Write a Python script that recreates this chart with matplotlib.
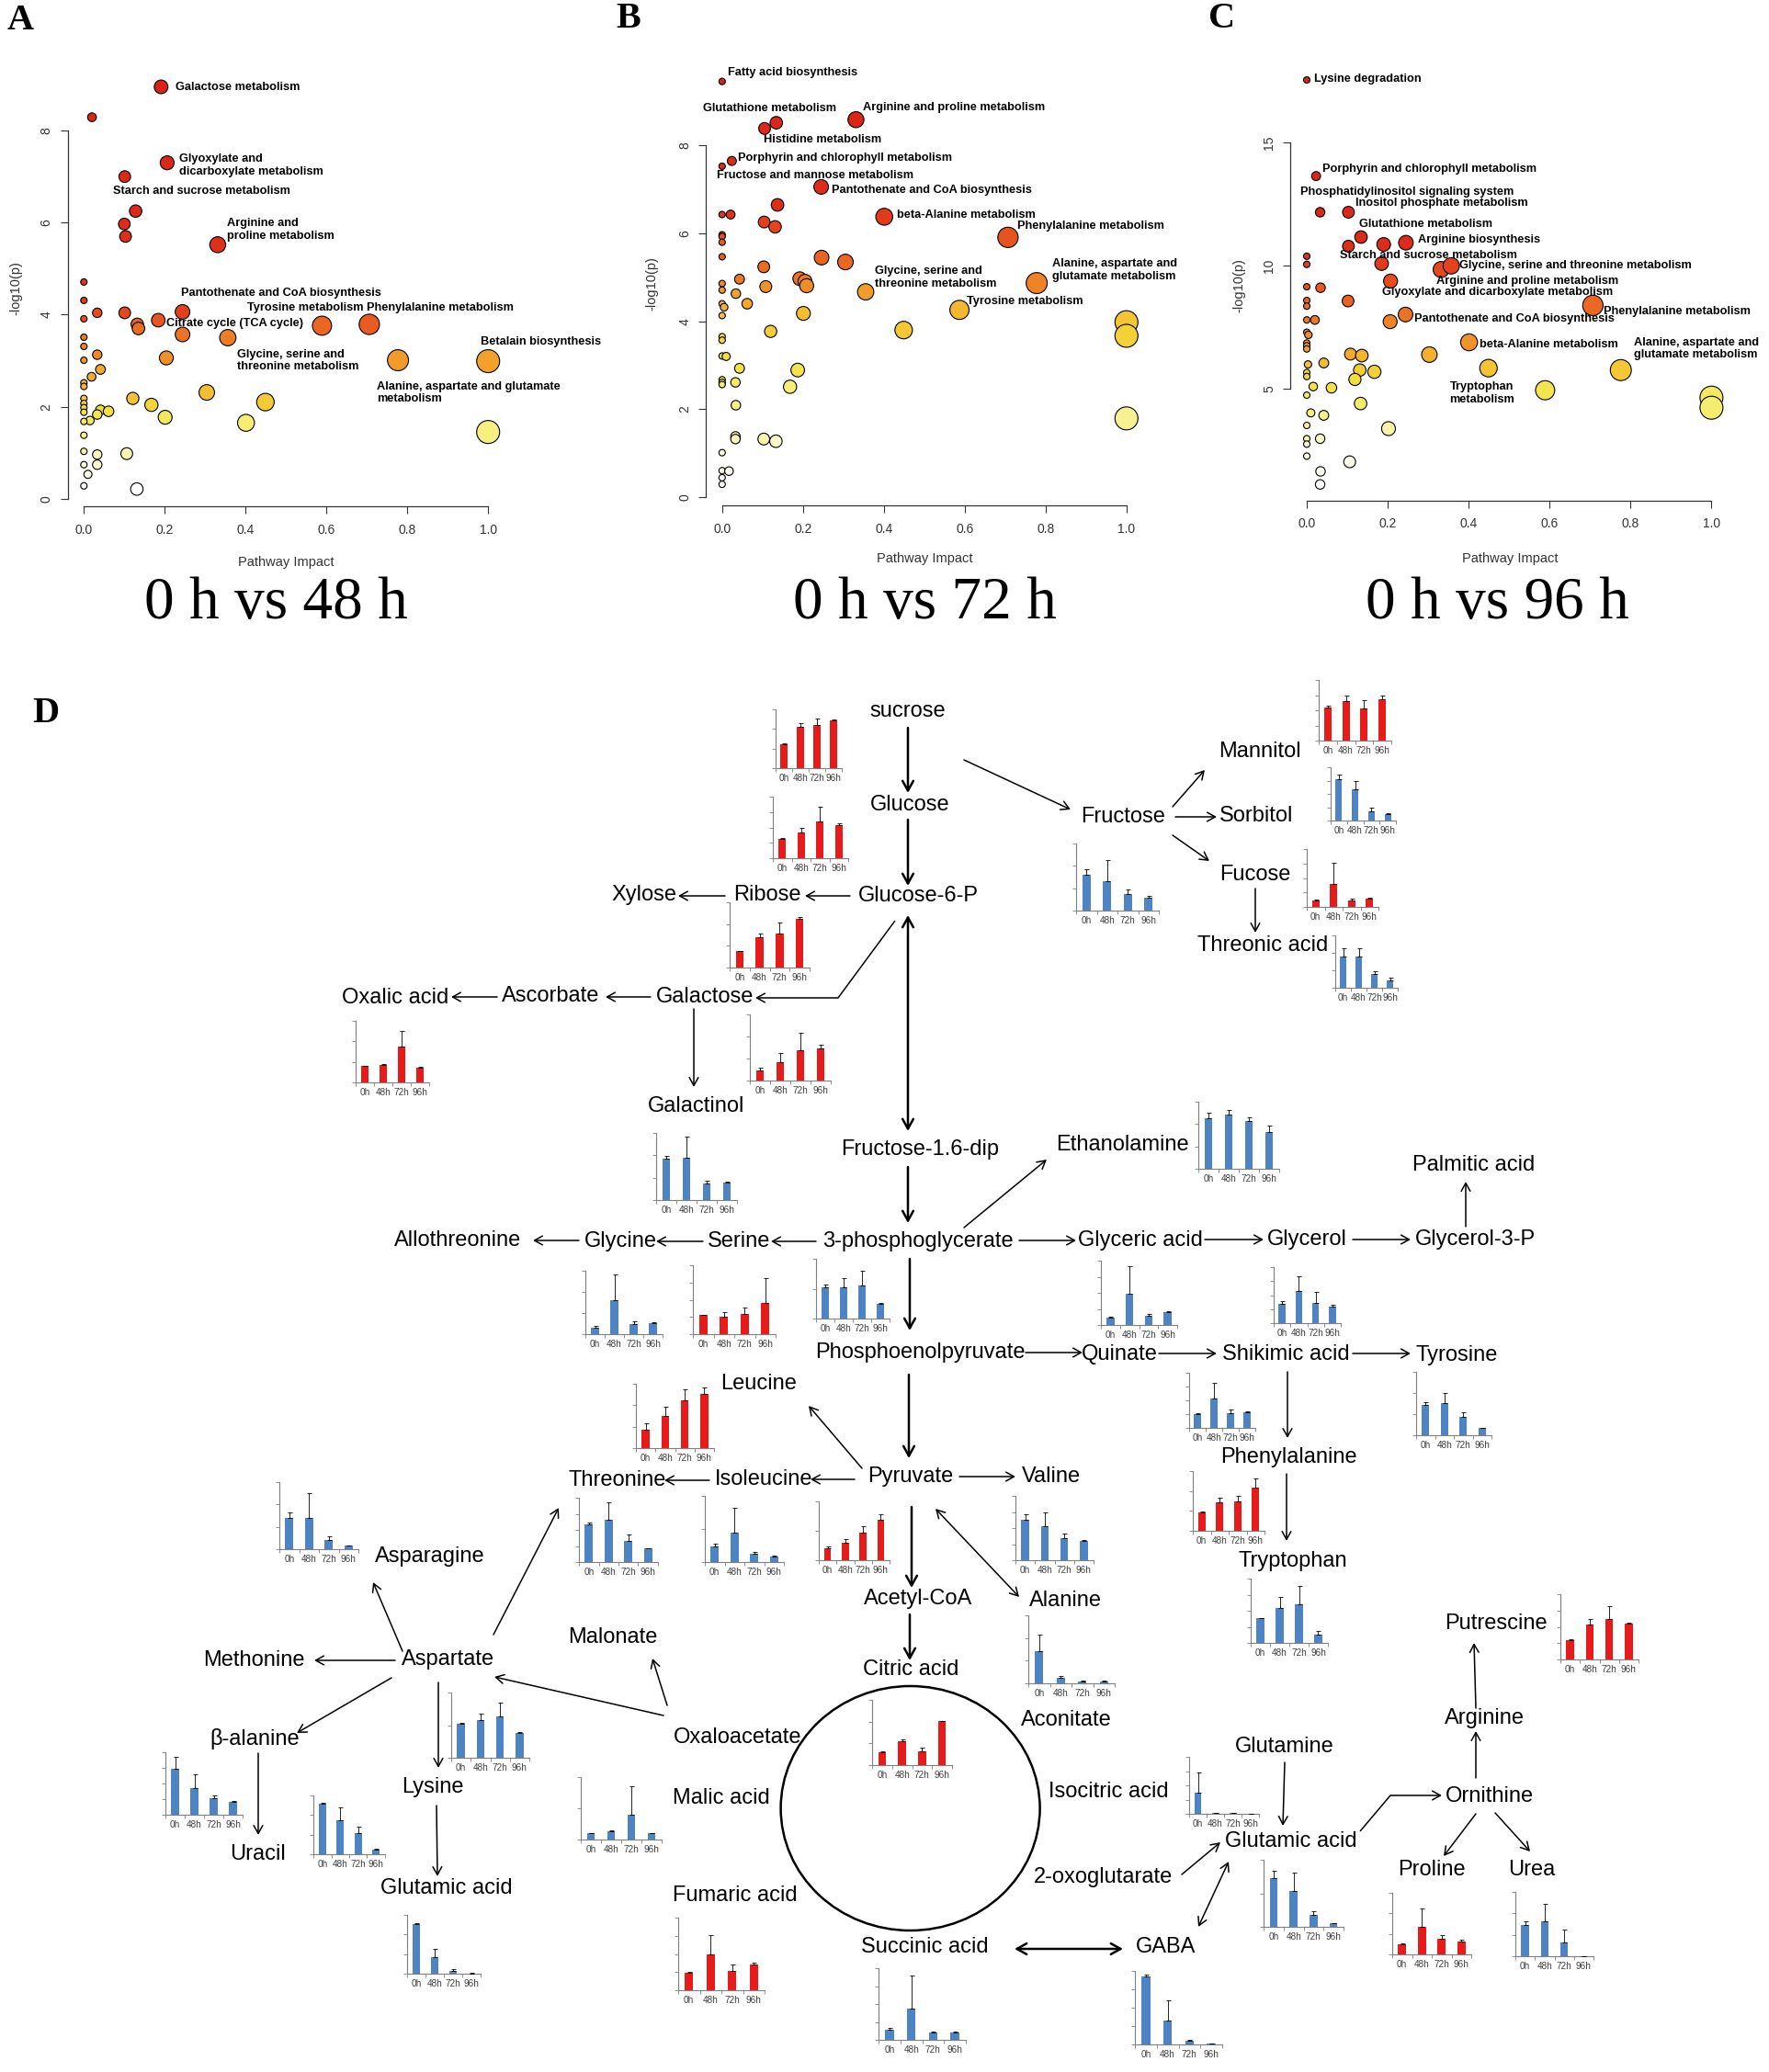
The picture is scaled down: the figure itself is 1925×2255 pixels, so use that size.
"""Pathway impact bubble plots (A-C) and the metabolite map with bar insets (D)."""

import numpy as np
import matplotlib

matplotlib.use("Agg")
import matplotlib.pyplot as plt
from matplotlib.colors import LinearSegmentedColormap
from matplotlib.patches import Ellipse

W, H = 1925, 2255

# ------------------------------------------------------------------ A-C data
a_impact = [0.191, 0.020, 0.206, 0.101, 0.128, 0.100, 0.103, 0.331, 0.0, 0.0,
            0.033, 0.0, 0.101, 0.244, 0.184, 0.132, 0.135, 0.244, 0.356, 0.589,
            0.706, 0.0, 0.0, 0.033, 0.0, 0.204, 0.777, 1.0, 0.041, 0.019,
            0.0, 0.0, 0.304, 0.121, 0.0, 0.0, 0.449, 0.167, 0.0, 0.041,
            0.061, 0.0, 0.033, 0.201, 0.015, 0.0, 0.401, 1.0, 0.0, 0.0,
            0.033, 0.106, 0.0, 0.033, 0.010, 0.0, 0.131]
a_logp = [8.95, 8.29, 7.30, 7.00, 6.25, 5.97, 5.70, 5.52, 4.71, 4.31,
          4.04, 3.91, 4.04, 4.06, 3.88, 3.79, 3.70, 3.57, 3.50, 3.76,
          3.79, 3.51, 3.31, 3.13, 3.01, 3.06, 3.01, 2.99, 2.81, 2.65,
          2.52, 2.44, 2.31, 2.18, 2.18, 2.07, 2.10, 2.04, 1.98, 1.93,
          1.90, 1.88, 1.83, 1.77, 1.70, 1.68, 1.65, 1.45, 1.38, 1.03,
          0.96, 0.98, 0.74, 0.74, 0.53, 0.28, 0.21]
a_pathways = ["Galactose metabolism", "Glyoxylate and\ndicarboxylate metabolism",
              "Starch and sucrose metabolism", "Arginine and\nproline metabolism",
              "Pantothenate and CoA biosynthesis", "Tyrosine metabolism",
              "Phenylalanine metabolism", "Citrate cycle (TCA cycle)",
              "Betalain biosynthesis", "Glycine, serine and\nthreonine metabolism",
              "Alanine, aspartate and glutamate\nmetabolism"]

b_impact = [0.0, 0.134, 0.105, 0.331, 0.024, 0.0, 0.245, 0.137, 0.0, 0.021,
            0.104, 0.131, 0.401, 0.707, 0.0, 0.0, 0.0, 0.0, 0.246, 0.305,
            0.103, 0.043, 0.192, 0.205, 0.209, 0.778, 0.0, 0.108, 0.0, 0.355,
            0.034, 0.0, 0.062, 0.005, 0.587, 0.201, 0.0, 1.0, 0.449, 0.120,
            1.0, 0.0, 0.0, 0.0, 0.010, 0.043, 0.187, 0.0, 0.0, 0.0,
            0.033, 0.168, 0.034, 1.0, 0.033, 0.033, 0.103, 0.133, 0.0, 0.0,
            0.017, 0.0, 0.0]
b_logp = [9.46, 8.52, 8.39, 8.59, 7.65, 7.53, 7.06, 6.65, 6.43, 6.43,
          6.26, 6.15, 6.38, 5.91, 5.97, 5.93, 5.80, 5.47, 5.45, 5.35,
          5.24, 4.96, 4.97, 4.91, 4.81, 4.87, 4.86, 4.79, 4.71, 4.67,
          4.63, 4.40, 4.40, 4.32, 4.26, 4.18, 4.13, 3.98, 3.80, 3.77,
          3.67, 3.65, 3.57, 3.21, 3.20, 2.93, 2.89, 2.67, 2.61, 2.56,
          2.61, 2.51, 2.09, 1.79, 1.38, 1.32, 1.32, 1.27, 1.01, 0.60,
          0.59, 0.44, 0.29]
b_pathways = ["Fatty acid biosynthesis", "Glutathione metabolism",
              "Arginine and proline metabolism", "Histidine metabolism",
              "Porphyrin and chlorophyll metabolism", "Fructose and mannose metabolism",
              "Pantothenate and CoA biosynthesis", "beta-Alanine metabolism",
              "Phenylalanine metabolism", "Alanine, aspartate and\nglutamate metabolism",
              "Glycine, serine and\nthreonine metabolism", "Tyrosine metabolism"]

c_impact = [0.0, 0.023, 0.033, 0.103, 0.134, 0.103, 0.190, 0.245, 0.0, 0.0,
            0.185, 0.332, 0.357, 0.207, 0.0, 0.034, 0.102, 0.0, 0.0, 0.707,
            0.0, 0.020, 0.244, 0.206, 0.0, 0.004, 0.0, 0.0, 0.0, 0.401,
            0.108, 0.136, 0.303, 0.042, 0.003, 0.449, 0.776, 0.131, 0.167, 0.0,
            0.0, 0.119, 0.016, 0.061, 0.589, 1.0, 0.0, 0.133, 1.0, 0.010,
            0.042, 0.0, 0.202, 0.033, 0.0, 0.0, 0.0, 0.106, 0.034, 0.033]
c_logp = [17.55, 13.64, 12.17, 12.17, 11.16, 10.79, 10.86, 10.93, 10.38, 10.05,
          10.08, 9.84, 9.99, 9.37, 9.14, 9.10, 8.56, 8.58, 8.35, 8.38,
          7.79, 7.79, 8.01, 7.72, 7.29, 7.18, 6.85, 6.74, 6.61, 6.88,
          6.40, 6.34, 6.38, 6.04, 5.98, 5.83, 5.75, 5.75, 5.68, 5.65,
          5.49, 5.37, 5.08, 5.03, 4.93, 4.63, 4.73, 4.39, 4.22, 4.01,
          3.91, 3.50, 3.37, 2.96, 2.96, 2.74, 2.25, 2.02, 1.63, 1.10]
c_pathways = ["Lysine degradation", "Porphyrin and chlorophyll metabolism",
              "Phosphatidylinositol signaling system", "Inositol phosphate metabolism",
              "Glutathione metabolism", "Arginine biosynthesis",
              "Starch and sucrose metabolism", "Glycine, serine and threonine metabolism",
              "Arginine and proline metabolism", "Glyoxylate and dicarboxylate metabolism",
              "Phenylalanine metabolism", "Pantothenate and CoA biosynthesis",
              "beta-Alanine metabolism", "Alanine, aspartate and\nglutamate metabolism",
              "Tryptophan\nmetabolism"]

comparisons = ["0 h vs 48 h", "0 h vs 72 h", "0 h vs 96 h"]

# ------------------------------------------------------------------ D data
time_points = ["0h", "48h", "72h", "96h"]
bar_metabolites = ["sucrose", "Glucose", "Ribose", "Galactose", "Galactinol",
                   "Fructose", "Ethanolamine", "Mannitol", "Sorbitol", "Fucose",
                   "Threonic acid", "Oxalic acid", "Glycine", "Serine",
                   "3-phosphoglycerate", "Glyceric acid", "Glycerol", "Leucine",
                   "Shikimic acid", "Tyrosine", "Threonine", "Isoleucine", "Pyruvate",
                   "Valine", "Phenylalanine", "Asparagine", "Tryptophan", "Alanine",
                   "Putrescine", "Aspartate", "beta-alanine", "Lysine", "Malic acid",
                   "Citric acid", "Isocitric acid", "Glutamic acid (GABA side)",
                   "Proline", "Urea", "Glutamic acid (lysine side)", "Fumaric acid",
                   "Succinic acid", "GABA"]
bar_means = [[0.41, 0.71, 0.74, 0.82], [0.31, 0.42, 0.60, 0.53], [0.25, 0.46, 0.52, 0.75],
             [0.15, 0.28, 0.46, 0.49], [0.62, 0.63, 0.24, 0.26], [0.54, 0.44, 0.24, 0.19],
             [0.75, 0.81, 0.71, 0.55], [0.55, 0.65, 0.53, 0.68], [0.77, 0.59, 0.18, 0.12],
             [0.11, 0.39, 0.11, 0.14], [0.59, 0.59, 0.27, 0.14], [0.265, 0.29, 0.585, 0.24],
             [0.10, 0.53, 0.16, 0.17], [0.28, 0.25, 0.30, 0.46], [0.53, 0.53, 0.56, 0.25],
             [0.12, 0.49, 0.14, 0.20], [0.34, 0.58, 0.36, 0.30], [0.29, 0.50, 0.74, 0.84],
             [0.25, 0.54, 0.27, 0.29], [0.48, 0.51, 0.29, 0.11], [0.58, 0.66, 0.33, 0.21],
             [0.24, 0.44, 0.12, 0.08], [0.21, 0.30, 0.47, 0.69], [0.63, 0.53, 0.34, 0.30],
             [0.31, 0.47, 0.49, 0.73], [0.46, 0.47, 0.14, 0.05], [0.38, 0.55, 0.60, 0.13],
             [0.47, 0.08, 0.03, 0.03], [0.30, 0.535, 0.625, 0.555], [0.52, 0.58, 0.64, 0.38],
             [0.74, 0.43, 0.27, 0.20], [0.86, 0.58, 0.36, 0.08], [0.10, 0.13, 0.40, 0.10],
             [0.20, 0.36, 0.21, 0.67], [0.37, 0.017, 0.01, 0.005], [0.72, 0.53, 0.18, 0.05],
             [0.16, 0.45, 0.26, 0.21], [0.48, 0.54, 0.22, 0.0], [0.84, 0.28, 0.05, 0.006],
             [0.24, 0.49, 0.27, 0.35], [0.14, 0.43, 0.10, 0.10], [0.92, 0.33, 0.045, 0.013]]
bar_err_tops = [[0.42, 0.76, 0.84, 0.83], [0.33, 0.49, 0.83, 0.56], [0.26, 0.52, 0.69, 0.78],
                [0.19, 0.41, 0.72, 0.54], [0.66, 0.95, 0.29, 0.28], [0.61, 0.76, 0.31, 0.22],
                [0.84, 0.88, 0.77, 0.64], [0.57, 0.75, 0.66, 0.75], [0.87, 0.75, 0.25, 0.14],
                [0.12, 0.76, 0.15, 0.16], [0.76, 0.76, 0.32, 0.19], [0.275, 0.305, 0.84, 0.25],
                [0.125, 0.94, 0.21, 0.19], [0.28, 0.32, 0.39, 0.82], [0.57, 0.67, 0.80, 0.26],
                [0.13, 0.92, 0.17, 0.21], [0.39, 0.84, 0.55, 0.33], [0.39, 0.64, 0.91, 0.94],
                [0.26, 0.81, 0.34, 0.30], [0.52, 0.67, 0.36, 0.12], [0.62, 0.93, 0.43, 0.21],
                [0.28, 0.82, 0.15, 0.10], [0.24, 0.36, 0.58, 0.78], [0.71, 0.75, 0.42, 0.32],
                [0.33, 0.56, 0.59, 0.88], [0.55, 0.83, 0.19, 0.06], [0.385, 0.71, 0.89, 0.19],
                [0.72, 0.11, 0.04, 0.04], [0.31, 0.62, 0.81, 0.565], [0.54, 0.67, 0.85, 0.39],
                [0.93, 0.64, 0.31, 0.22], [0.88, 0.79, 0.47, 0.09], [0.105, 0.15, 0.85, 0.10],
                [0.21, 0.40, 0.27, 0.68], [0.72, 0.02, 0.012, 0.006], [0.84, 0.81, 0.23, 0.06],
                [0.18, 0.74, 0.31, 0.24], [0.54, 0.82, 0.42, 0.0], [0.86, 0.42, 0.08, 0.008],
                [0.25, 0.76, 0.35, 0.38], [0.17, 0.90, 0.12, 0.11], [0.95, 0.60, 0.06, 0.015]]
bar_increased = [True, True, True, True, False, False, False, True, False, True,
                 False, True, False, True, False, False, False, True, False, False,
                 False, False, True, False, True, False, False, False, True, False,
                 False, False, False, True, False, False, True, False, False, True,
                 False, False]

# ------------------------------------------------------------------ layout (pixels)
panel_boxes = [(73.7, 77.0, 548.8, 551.0), (768.2, 67.6, 1243.4, 550.0),
               (1404.4, 69.6, 1880.0, 544.6)]
panel_ylims = [(-0.164, 9.3), (-0.19, 9.9), (0.45, 18.2)]
panel_yticks = [[0, 2, 4, 6, 8], [0, 2, 4, 6, 8], [5, 10, 15]]
a_label_xy = [(0.226, 8.95), (0.235, 7.25), (0.071, 6.68), (0.355, 5.85), (0.241, 4.46),
              (0.405, 4.14), (0.700, 4.14), (0.204, 3.80), (0.981, 3.40), (0.380, 3.00),
              (0.725, 2.30)]
b_label_xy = [(0.015, 9.67), (-0.048, 8.84), (0.349, 8.86), (0.103, 8.13), (0.040, 7.71),
              (-0.014, 7.32), (0.270, 6.99), (0.432, 6.42), (0.730, 6.16), (0.816, 5.16),
              (0.377, 5.00), (0.605, 4.45)]
c_label_xy = [(0.019, 17.60), (0.038, 13.94), (-0.017, 12.98), (0.120, 12.56), (0.129, 11.69),
              (0.275, 11.05), (0.082, 10.42), (0.377, 9.99), (0.320, 9.35), (0.187, 8.92),
              (0.734, 8.12), (0.265, 7.85), (0.427, 6.80), (0.809, 6.62), (0.353, 4.81)]
xlabel_xy = [(311, 612), (1006, 608), (1643, 608)]
ylabel_xy = [(17, 314), (709, 309), (1348, 311)]
title_xy = [(300, 657), (1006, 657), (1629, 657)]

bar_boxes = [(844, 772, 916, 836), (841, 867, 923, 934), (794, 982, 881, 1053),
             (816, 1104, 904, 1176), (714, 1233, 802, 1306), (1171, 918, 1261, 991),
             (1304, 1199, 1392, 1272), (1435, 740, 1514, 806), (1448, 835, 1519, 893),
             (1422, 924, 1500, 987), (1453, 1018, 1521, 1075), (387, 1111, 467, 1178),
             (637, 1383, 721, 1452), (754, 1377, 844, 1452), (888, 1370, 968, 1435),
             (1198, 1372, 1281, 1442), (1386, 1379, 1459, 1440), (692, 1506, 777, 1576),
             (1294, 1494, 1366, 1554), (1541, 1493, 1623, 1562), (630, 1630, 716, 1700),
             (767, 1628, 853, 1700), (891, 1634, 968, 1698), (1105, 1628, 1190, 1698),
             (1298, 1601, 1376, 1666), (304, 1613, 390, 1686), (1361, 1718, 1445, 1788),
             (1119, 1758, 1213, 1832), (1698, 1735, 1783, 1806), (491, 1842, 576, 1913),
             (180, 1907, 264, 1975), (341, 1954, 419, 2018), (632, 1934, 720, 2002),
             (949, 1850, 1036, 1921), (1294, 1912, 1370, 1974), (1375, 2024, 1462, 2097),
             (1515, 2060, 1601, 2127), (1649, 2059, 1734, 2129), (443, 2084, 523, 2148),
             (738, 2087, 832, 2166), (956, 2142, 1051, 2220), (1235, 2145, 1330, 2225)]
bar_ytick_steps = [3, 4, 3, 3, 3, 3, 3, 4, 4, 4, 3, 3, 3, 4, 2, 4, 4, 3, 4, 3, 4, 2,
                   2, 4, 3, 3, 4, 3, 4, 2, 4, 3, 2, 3, 4, 2, 3, 3, 3, 4, 4, 4]

node_labels = [
    ("sucrose", 988, 774), ("Glucose", 990, 876), ("Glucose-6-P", 999, 975),
    ("Ribose", 835, 974), ("Xylose", 701, 974), ("Fructose", 1222, 889),
    ("Mannitol", 1371, 818), ("Sorbitol", 1367, 888), ("Fucose", 1366, 952),
    ("Threonic acid", 1374, 1029), ("Galactose", 767, 1085), ("Ascorbate", 599, 1084),
    ("Oxalic acid", 430, 1086), ("Galactinol", 758, 1204), ("Fructose-1.6-dip", 1001, 1251),
    ("Ethanolamine", 1221, 1246), ("Palmitic acid", 1604, 1268),
    ("Allothreonine", 498, 1350), ("Glycine", 675, 1351), ("Serine", 804, 1351),
    ("3-phosphoglycerate", 999, 1351), ("Glyceric acid", 1241, 1350),
    ("Glycerol", 1422, 1349), ("Glycerol-3-P", 1605, 1349),
    ("Phosphoenolpyruvate", 1001, 1472), ("Quinate", 1218, 1474),
    ("Shikimic acid", 1399, 1474), ("Tyrosine", 1585, 1475), ("Leucine", 826, 1506),
    ("Phenylalanine", 1402, 1586), ("Threonine", 672, 1611), ("Isoleucine", 831, 1610),
    ("Pyruvate", 991, 1607), ("Valine", 1144, 1607), ("Asparagine", 468, 1694),
    ("Tryptophan", 1407, 1699), ("Acetyl-CoA", 999, 1740), ("Alanine", 1159, 1742),
    ("Putrescine", 1628, 1767), ("Malonate", 667, 1782), ("Methonine", 276, 1807),
    ("Aspartate", 488, 1806), ("Citric acid", 991, 1817), ("Aconitate", 1160, 1872),
    ("Arginine", 1615, 1870), ("Oxaloacetate", 803, 1891), ("β-alanine", 277, 1892),
    ("Glutamine", 1398, 1901), ("Lysine", 471, 1945), ("Isocitric acid", 1206, 1950),
    ("Malic acid", 785, 1957), ("Ornithine", 1621, 1955), ("Glutamic acid", 1405, 2004),
    ("Uracil", 281, 2018), ("Proline", 1558, 2035), ("Urea", 1667, 2035),
    ("2-oxoglutarate", 1201, 2043), ("Glutamic acid", 486, 2055),
    ("Fumaric acid", 800, 2063), ("Succinic acid", 1006, 2119), ("GABA", 1269, 2119),
]

thin_arrows = [
    ((925, 975), (876, 975)), ((789, 975), (738, 975)), ((708, 1085), (659, 1085)),
    ((541, 1085), (491, 1085)), ((755, 1098), (755, 1183)), ((1049, 827), (1165, 881)),
    ((1276, 878), (1311, 838)), ((1279, 889), (1324, 889)), ((1276, 909), (1316, 937)),
    ((1366, 967), (1366, 1015)), ((1049, 1336), (1139, 1262)), ((888, 1351), (839, 1351)),
    ((765, 1351), (714, 1351)), ((630, 1350), (580, 1350)), ((1109, 1350), (1171, 1350)),
    ((1311, 1349), (1375, 1349)), ((1472, 1349), (1535, 1349)), ((1595, 1335), (1595, 1286)),
    ((1116, 1472), (1178, 1472)), ((1261, 1473), (1324, 1473)), ((1472, 1473), (1535, 1473)),
    ((1401, 1493), (1401, 1565)), ((1400, 1604), (1400, 1677)), ((938, 1598), (880, 1530)),
    ((930, 1610), (882, 1610)), ((772, 1611), (723, 1611)), ((1044, 1607), (1105, 1607)),
    ((537, 1779), (608, 1641)), ((438, 1797), (406, 1722)), ((430, 1807), (342, 1807)),
    ((426, 1826), (323, 1886)), ((281, 1908), (281, 1997)), ((477, 1831), (477, 1924)),
    ((475, 1965), (476, 2042)), ((722, 1867), (538, 1825)), ((726, 1856), (710, 1805)),
    ((1286, 2040), (1328, 2005)), ((1398, 1918), (1396, 1987)), ((1606, 1935), (1606, 1884)),
    ((1606, 1859), (1604, 1788)), ((1606, 1974), (1571, 2020)), ((1627, 1973), (1665, 2015)),
]
thin_double_arrows = [((1018, 1642), (1109, 1738)), ((1337, 2026), (1304, 2097))]
thick_arrows = [((988, 792), (988, 863)), ((988, 892), (988, 964)), ((988, 1270), (988, 1331)),
                ((990, 1370), (990, 1448)), ((989, 1496), (989, 1587)),
                ((992, 1640), (992, 1728)), ((990, 1757), (990, 1807))]
thick_double_arrows = [((988, 996), (988, 1231)), ((1104, 2121), (1222, 2121))]
bent_arrows = [[(974, 1002), (912, 1086), (822, 1086)],
               [(1480, 1993), (1513, 1954), (1569, 1954)]]

SANS = ["Liberation Sans", "DejaVu Sans"]
NARROW = ["Liberation Sans Narrow", "Liberation Sans", "DejaVu Sans"]
SERIF = ["Liberation Serif", "DejaVu Serif"]
RED = "#E81B1B"
BLUE = "#4F84C4"
AXIS_GREY = "#7F7F7F"

heat = LinearSegmentedColormap.from_list(
    "heat_rev",
    [(0.0, "#FFFFFF"), (0.08, "#FAF7C8"), (0.18, "#F5EE70"), (0.30, "#F3DE3C"),
     (0.45, "#F4B830"), (0.60, "#EF8726"), (0.75, "#E8561F"), (0.88, "#DE2F1A"),
     (1.0, "#D92318")],
)

fig = plt.figure(figsize=(W / 100, H / 100), dpi=100)
bg = fig.add_axes([0, 0, 1, 1])
bg.set_xlim(0, W)
bg.set_ylim(H, 0)
bg.axis("off")


def px_axes(x0, y0, x1, y1):
    ax = fig.add_axes([x0 / W, 1 - y1 / H, (x1 - x0) / W, (y1 - y0) / H])
    ax.patch.set_alpha(0)
    return ax


def bubble_panel(box, impact, logp, ylim, yticks, names, label_xy):
    ax = px_axes(*box)
    ax.set_xlim(-0.04, 1.04)
    ax.set_ylim(*ylim)
    impact = np.asarray(impact)
    logp = np.asarray(logp)
    rank = logp.argsort().argsort() / (len(logp) - 1)
    diameter_px = 7 + 18 * np.sqrt(impact)
    ax.scatter(impact, logp, s=(diameter_px * 0.72) ** 2, c=heat(rank),
               edgecolors="black", linewidths=0.8, zorder=3, clip_on=False)
    for name, (lx, ly) in zip(names, label_xy):
        ax.text(lx, ly, name, ha="left", va="center", fontsize=9.2, fontweight="bold",
                family=SANS, linespacing=1.2, zorder=4)
    for side in ("top", "right"):
        ax.spines[side].set_visible(False)
    ax.spines["left"].set_bounds(yticks[0], yticks[-1])
    ax.spines["bottom"].set_bounds(0, 1)
    for side in ("left", "bottom"):
        ax.spines[side].set_color("#333333")
        ax.spines[side].set_linewidth(0.9)
    ax.set_xticks(np.arange(0, 1.01, 0.2))
    ax.set_xticklabels([f"{t:.1f}" for t in np.arange(0, 1.01, 0.2)], family=SANS)
    ax.set_yticks(yticks)
    ax.set_yticklabels([str(t) for t in yticks], rotation=90, va="center", family=SANS)
    ax.tick_params(direction="out", length=5.5, width=0.8, colors="#333333", labelsize=10)
    ax.tick_params(axis="x", pad=8)
    ax.tick_params(axis="y", pad=6)
    return ax


def bar_inset(box, means, tops, increased, steps):
    ax = px_axes(*box)
    pos = np.arange(len(time_points))
    means = np.asarray(means)
    tops = np.asarray(tops)
    ax.bar(pos, means, width=0.4, color=RED if increased else BLUE, zorder=2)
    ax.errorbar(pos, means, yerr=[np.zeros(len(pos)), tops - means], fmt="none",
                ecolor="black", elinewidth=0.6, capsize=1.8, capthick=0.6, zorder=3)
    ax.set_xlim(-0.5, 3.5)
    ax.set_ylim(0, 1)
    ax.set_yticks(np.linspace(0, 1, steps + 1))
    ax.set_yticklabels([])
    ax.set_xticks(pos)
    ax.set_xticklabels(time_points, fontsize=7.2, family=NARROW, color="#404040")
    ax.set_xticks(np.arange(-0.5, 4, 1), minor=True)
    ax.tick_params(axis="x", which="major", length=0, pad=4.5)
    ax.tick_params(axis="x", which="minor", length=3, width=0.6, color=AXIS_GREY,
                   direction="out")
    ax.tick_params(axis="y", length=3, width=0.6, color=AXIS_GREY, direction="out")
    for side in ("top", "right"):
        ax.spines[side].set_visible(False)
    for side in ("left", "bottom"):
        ax.spines[side].set_color(AXIS_GREY)
        ax.spines[side].set_linewidth(0.8)


def arrow(start, end, style="->", lw=1.1, scale=14):
    bg.annotate("", xy=end, xytext=start, xycoords="data", textcoords="data",
                arrowprops=dict(arrowstyle=f"{style},head_length=0.45,head_width=0.25",
                                lw=lw, color="black", shrinkA=0, shrinkB=0,
                                mutation_scale=scale))


# ---- panels A-C
panel_data = [(a_impact, a_logp, a_pathways, a_label_xy),
              (b_impact, b_logp, b_pathways, b_label_xy),
              (c_impact, c_logp, c_pathways, c_label_xy)]
for i, (imp, lp, names, lxy) in enumerate(panel_data):
    bubble_panel(panel_boxes[i], imp, lp, panel_ylims[i], panel_yticks[i], names, lxy)
    bg.text(*xlabel_xy[i], "Pathway Impact", ha="center", va="center", fontsize=10.5,
            family=SANS, color="#333333")
    bg.text(*ylabel_xy[i], "-log10(p)", ha="center", va="center", fontsize=10.5,
            family=SANS, color="#333333", rotation=90)
    bg.text(*title_xy[i], comparisons[i], ha="center", va="center", fontsize=47,
            family=SERIF)

for letter, (lx, ly) in zip("ABCD", [(22, 22), (684, 20), (1330, 20), (50, 776)]):
    bg.text(lx, ly, letter, ha="center", va="center", fontsize=29, fontweight="bold",
            family=SERIF)

# ---- panel D: pathway map
for name, x, y in node_labels:
    bg.text(x, y, name, ha="center", va="center", fontsize=17, family=SANS)

for start, end in thin_arrows:
    arrow(start, end)
for start, end in thin_double_arrows:
    arrow(start, end, style="<->")
for start, end in thick_arrows:
    arrow(start, end, lw=1.8, scale=17)
for start, end in thick_double_arrows:
    arrow(start, end, style="<->", lw=1.8, scale=17)
for path in bent_arrows:
    xs, ys = zip(*path)
    bg.plot(xs[:-1], ys[:-1], color="black", lw=1.1, solid_capstyle="butt")
    arrow(path[-2], path[-1])

bg.add_patch(Ellipse((990.6, 1968), 282, 266, fill=False, lw=1.8, ec="black"))

for i in range(len(bar_metabolites)):
    bar_inset(bar_boxes[i], bar_means[i], bar_err_tops[i], bar_increased[i],
              bar_ytick_steps[i])

fig.savefig("out.png", dpi=100)
